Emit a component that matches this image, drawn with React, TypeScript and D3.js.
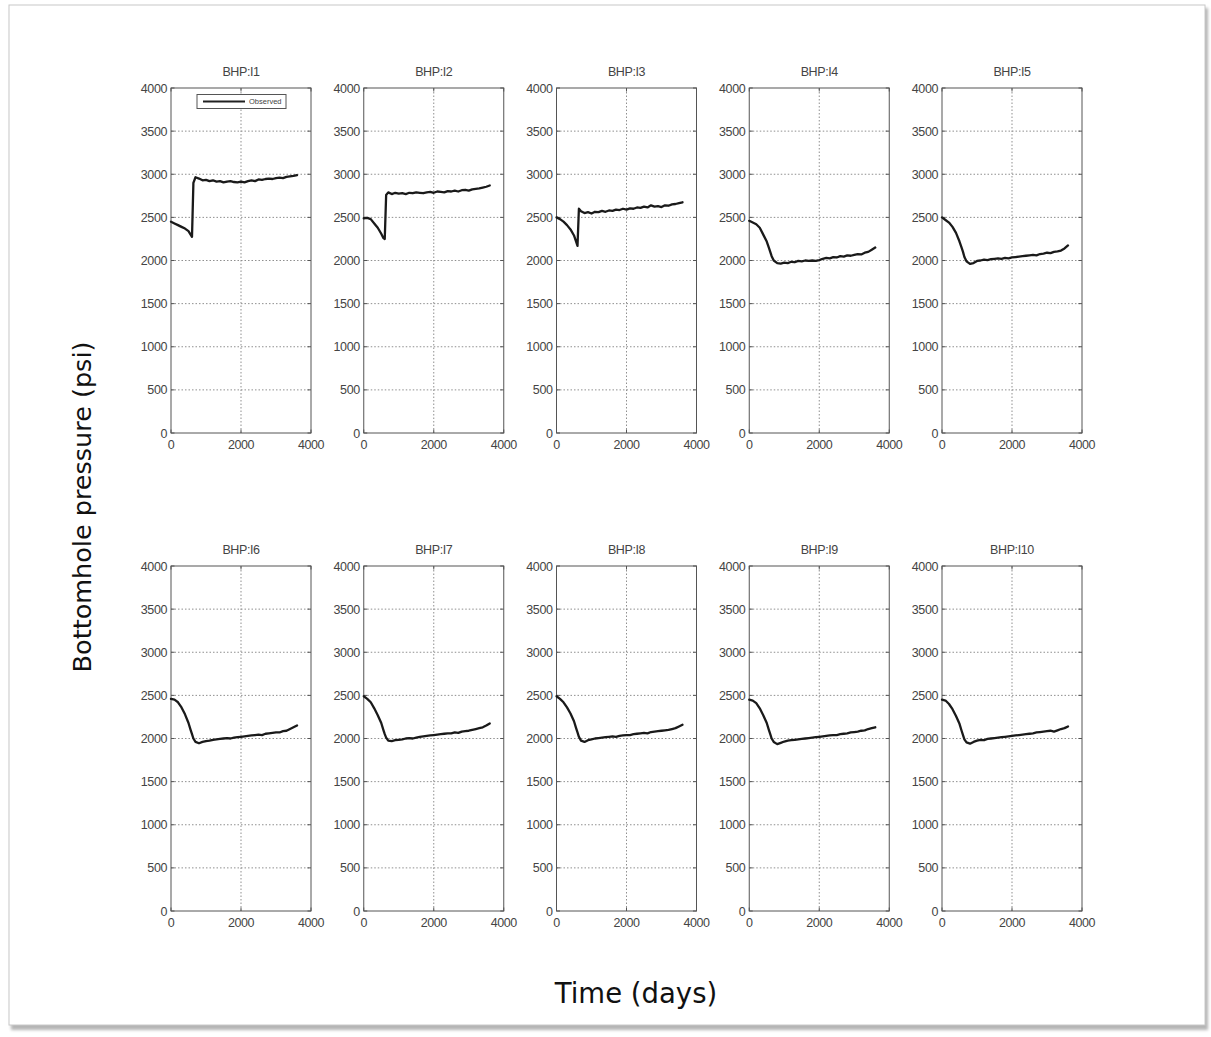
import React from 'react';
import * as d3 from 'd3';

const TIME = [0,100,200,300,400,500,560,600,640,700,800,900,1000,1100,1200,1300,1400,1500,1600,1700,1800,1900,2000,2100,2200,2300,2400,2500,2600,2700,2800,2900,3000,3100,3200,3300,3400,3500,3600];

const WELLS = ['I1','I2','I3','I4','I5','I6','I7','I8','I9','I10'];

const BHP_I1 = [2450,2430,2410,2390,2370,2340,2300,2275,2900,2965,2950,2930,2935,2920,2930,2915,2920,2905,2915,2920,2910,2905,2915,2905,2920,2930,2920,2940,2935,2945,2950,2945,2955,2960,2955,2970,2975,2980,2990];
const BHP_I2 = [2490,2495,2480,2430,2380,2310,2260,2250,2760,2790,2770,2785,2775,2780,2770,2785,2780,2790,2785,2780,2790,2795,2785,2800,2795,2790,2805,2800,2810,2800,2815,2820,2810,2825,2830,2835,2845,2855,2870];
const BHP_I3 = [2500,2480,2450,2410,2360,2290,2220,2170,2600,2570,2550,2560,2545,2565,2560,2575,2565,2580,2575,2590,2585,2600,2590,2605,2600,2615,2610,2625,2615,2640,2625,2630,2620,2640,2635,2650,2655,2665,2675];
const BHP_I4 = [2460,2440,2420,2380,2300,2220,2150,2100,2050,2000,1970,1965,1975,1970,1985,1980,1995,1990,2000,1995,2000,1995,2005,2020,2030,2025,2040,2035,2050,2045,2060,2055,2065,2075,2070,2090,2100,2125,2150];
const BHP_I5 = [2500,2470,2440,2390,2320,2220,2150,2100,2040,1990,1960,1970,1995,2000,2010,2005,2015,2020,2025,2020,2030,2025,2035,2040,2045,2050,2055,2060,2065,2060,2075,2080,2090,2085,2100,2105,2115,2140,2175];
const BHP_I6 = [2460,2450,2420,2360,2280,2180,2100,2050,2000,1960,1945,1960,1970,1975,1985,1990,1995,2000,2005,2000,2010,2015,2020,2025,2030,2035,2040,2045,2040,2055,2060,2065,2070,2070,2085,2090,2110,2130,2150];
const BHP_I7 = [2490,2460,2420,2350,2270,2180,2100,2050,2010,1975,1970,1980,1985,1990,2000,2005,2000,2010,2020,2025,2030,2035,2040,2045,2050,2055,2060,2060,2070,2065,2080,2085,2090,2100,2110,2120,2130,2150,2175];
const BHP_I8 = [2490,2460,2420,2360,2290,2200,2120,2070,2020,1975,1960,1980,1990,2000,2005,2010,2015,2020,2025,2020,2030,2035,2040,2040,2050,2055,2060,2065,2060,2075,2080,2085,2090,2095,2100,2110,2120,2140,2160];
const BHP_I9 = [2450,2440,2410,2350,2270,2180,2100,2050,2000,1960,1935,1950,1965,1975,1980,1985,1990,1995,2000,2005,2010,2015,2020,2025,2030,2035,2040,2040,2050,2055,2060,2070,2075,2080,2090,2095,2110,2120,2130];
const BHP_I10 = [2450,2440,2400,2340,2260,2170,2090,2040,1990,1955,1940,1960,1975,1985,1980,1995,2000,2005,2010,2015,2020,2025,2030,2035,2040,2045,2050,2055,2060,2070,2075,2080,2085,2090,2080,2095,2110,2120,2140];

const SERIES = [BHP_I1, BHP_I2, BHP_I3, BHP_I4, BHP_I5, BHP_I6, BHP_I7, BHP_I8, BHP_I9, BHP_I10];

const Y_TICKS = [0,500,1000,1500,2000,2500,3000,3500,4000];
const X_TICKS = [0,2000,4000];
const LEGEND_LABEL = 'Observed';
const Y_LABEL = 'Bottomhole pressure (psi)';
const X_LABEL = 'Time (days)';

const W = 1211, H = 1037;
const PANEL_X0 = 171, PANEL_DX = 192.75, PANEL_W = 140;
const ROW_TOP = [88, 566], PANEL_H = 345;
const TICK_FONT = '"Liberation Sans Narrow", "Liberation Sans", Arial, sans-serif';
const TEXT_COLOR = '#444';

function Panel({ idx }: { idx: number }) {
  const col = idx % 5, row = Math.floor(idx / 5);
  const x0 = PANEL_X0 + col * PANEL_DX;
  const y0 = ROW_TOP[row];
  const x = d3.scaleLinear().domain([0, 4000]).range([x0, x0 + PANEL_W]);
  const y = d3.scaleLinear().domain([0, 4000]).range([y0 + PANEL_H, y0]);
  const data = TIME.map((t, i) => [t, SERIES[idx][i]] as [number, number]);
  const line = d3.line<[number, number]>().x(d => x(d[0])).y(d => y(d[1]));
  const tl = 3.5;
  return (
    <g>
      {Y_TICKS.slice(1, -1).map(v => (
        <line key={'gy' + v} x1={x(0)} x2={x(4000)} y1={y(v)} y2={y(v)} stroke="#8f8f8f" strokeWidth={1} strokeDasharray="1.5,2" />
      ))}
      {X_TICKS.slice(1, -1).map(v => (
        <line key={'gx' + v} x1={x(v)} x2={x(v)} y1={y(0)} y2={y(4000)} stroke="#8f8f8f" strokeWidth={1} strokeDasharray="1.5,2" />
      ))}
      {Y_TICKS.map(v => (
        <g key={'ty' + v}>
          <line x1={x(0)} x2={x(0) + tl} y1={y(v)} y2={y(v)} stroke="#555" />
          <line x1={x(4000)} x2={x(4000) - tl} y1={y(v)} y2={y(v)} stroke="#555" />
          <text x={x(0) - 4} y={y(v)} dy="0.36em" textAnchor="end" fontFamily={TICK_FONT} fontSize={12.5} fill={TEXT_COLOR} letterSpacing={-0.4}>{v}</text>
        </g>
      ))}
      {X_TICKS.map(v => (
        <g key={'tx' + v}>
          <line x1={x(v)} x2={x(v)} y1={y(0)} y2={y(0) - tl} stroke="#555" />
          <line x1={x(v)} x2={x(v)} y1={y(4000)} y2={y(4000) + tl} stroke="#555" />
          <text x={x(v)} y={y(0) + 16} textAnchor="middle" fontFamily={TICK_FONT} fontSize={12.5} fill={TEXT_COLOR} letterSpacing={-0.4}>{v}</text>
        </g>
      ))}
      <rect x={x(0)} y={y(4000)} width={PANEL_W} height={PANEL_H} fill="none" stroke="#555" strokeWidth={1} />
      <text x={x(2000)} y={y0 - 12} textAnchor="middle" fontFamily={TICK_FONT} fontSize={12.5} fill={TEXT_COLOR} letterSpacing={-0.4}>{'BHP:' + WELLS[idx]}</text>
      {idx === 0 && (
        <g>
          <rect x={197} y={94.5} width={89} height={14} fill="#fff" stroke="#555" strokeWidth={1} />
          <line x1={203} x2={245} y1={101.5} y2={101.5} stroke="#222" strokeWidth={2} />
          <text x={249} y={104} fontFamily={TICK_FONT} fontSize={7.5} fill={TEXT_COLOR}>{LEGEND_LABEL}</text>
        </g>
      )}
      <path d={line(data) || ''} fill="none" stroke="#1a1a1a" strokeWidth={2.3} strokeLinejoin="round" strokeLinecap="round" />
    </g>
  );
}

export default function App() {
  return (
    <svg width={W} height={H} style={{ position: 'absolute', left: 0, top: 0, background: '#fff' }}>
      <defs>
        <filter id="sh" x="-5%" y="-5%" width="110%" height="110%">
          <feGaussianBlur stdDeviation="1.5" />
        </filter>
      </defs>
      <rect x={0} y={0} width={W} height={H} fill="#fff" />
      <rect x={11} y={8} width={1197} height={1022} fill="#b5b5b5" filter="url(#sh)" />
      <rect x={9} y={5} width={1196} height={1020} fill="#fff" stroke="#c8c8c8" strokeWidth={1} />
      {WELLS.map((_, i) => <Panel key={i} idx={i} />)}
      <text transform="translate(91,507) rotate(-90)" textAnchor="middle" fontFamily='"DejaVu Sans", Verdana, sans-serif' fontSize={25.5} fill="#111">{Y_LABEL}</text>
      <text x={636} y={1003} textAnchor="middle" fontFamily='"DejaVu Sans", Verdana, sans-serif' fontSize={27.5} fill="#111">{X_LABEL}</text>
    </svg>
  );
}
